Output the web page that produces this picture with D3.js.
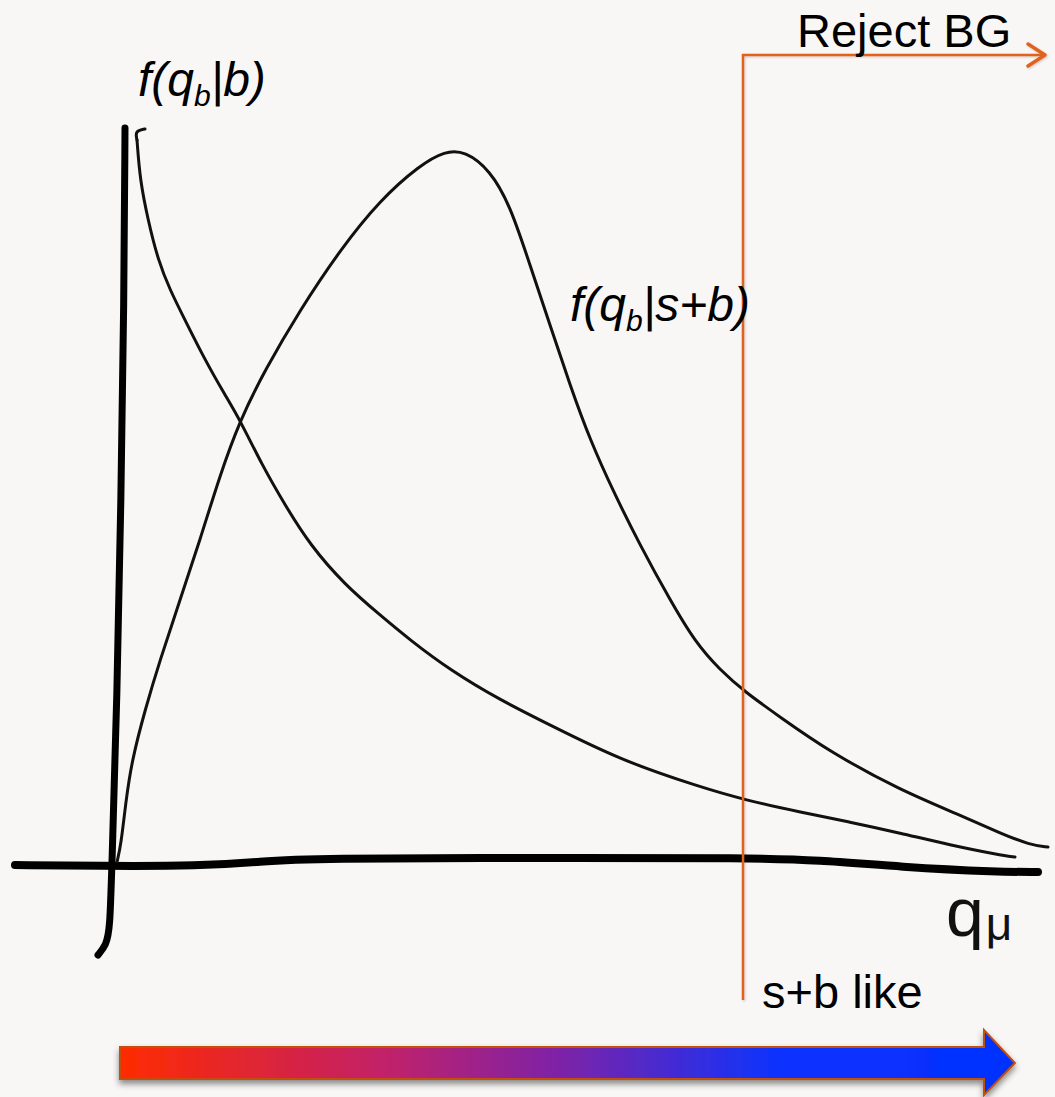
<!DOCTYPE html>
<html>
<head>
<meta charset="utf-8">
<script src="https://cdn.jsdelivr.net/npm/d3@7"></script>
<style>
  body { margin: 0; background: #f8f7f5; }
  text { font-family: "Liberation Sans", Arial, sans-serif; }
</style>
</head>
<body>
<div id="chart"></div>
<script>
    // hand drawn curves (q along x, f along y)
    var bgCurve = [
        [2.7, 72.5], [3.0, 68.5], [3.8, 64.5], [4.8, 60.5], [6.0, 57.5], [7.5, 54.5],
        [9.5, 50.5], [11.5, 47.0], [13.0, 44.5], [15.2, 40.0], [17.5, 36.0], [20.0, 32.0],
        [23.5, 28.0], [27.0, 25.0], [30.0, 22.5], [34.0, 19.5], [39.0, 16.5], [44.0, 14.0],
        [51.0, 10.5], [59.0, 7.8], [63.5, 6.5], [69.0, 5.3], [74.0, 4.3], [79.0, 3.2],
        [84.0, 2.0], [89.0, 1.0], [90.5, 0.8]
    ];
    var bgHook = [[3.5, 73.6], [2.5, 73.4], [2.7, 72.5]];

    var sbCurve = [
        [0.7, 0.3], [1.1, 2.0], [1.6, 6.5], [2.2, 10.5], [3.5, 15.5], [5.0, 20.5],
        [7.0, 26.5], [9.0, 32.5], [11.0, 39.0], [13.0, 44.5], [15.5, 49.5], [19.0, 55.5],
        [23.0, 61.5], [27.0, 66.5], [31.0, 70.0], [33.5, 71.4], [35.5, 71.4], [38.0, 69.5],
        [40.0, 66.0], [42.0, 60.0], [44.0, 54.0], [46.0, 48.0], [48.0, 42.5], [50.5, 37.0],
        [53.0, 32.0], [56.0, 26.5], [58.5, 22.3], [61.0, 19.5], [63.5, 17.3],
        [67.0, 14.8], [72.0, 11.3], [79.0, 7.5], [85.0, 5.0], [89.0, 3.2], [92.0, 2.0],
        [93.8, 1.8]
    ];

    var yAxisStroke = [[1.5, 73.7], [1.4, 56.5], [1.1, 36.5], [0.7, 16.5], [0.2, 0.5],
        [0.0, -6.5], [-0.4, -8.0], [-1.2, -9.0]];
    var xAxisStroke = [[-9.5, 0.0], [-1, -0.1], [9, -0.1], [15, 0.3], [19, 0.7], [49, 0.7],
        [63, 0.7], [71, 0.5], [79, -0.2], [89, -0.7], [92.8, -0.7]];

    var qCut = 63.3;
    var cutTop = 81, cutBottom = -13.5, cutArrowEnd = 93.5;

    var labels = ["Reject BG", "s+b like"];
    var gradStops = [
        {offset: 0, color: "#ff2b00"},
        {offset: 0.3, color: "#c0206a"},
        {offset: 0.5, color: "#7a24aa"},
        {offset: 0.74, color: "#0a33ff"},
        {offset: 1, color: "#0433ff"}
    ];

    var fullwidth = 1055;
    var fullheight = 1097;

    var svg = d3.select("#chart").append("svg")
        .attr("width", fullwidth)
        .attr("height", fullheight);

    svg.append("rect")
        .attr("width", fullwidth)
        .attr("height", fullheight)
        .attr("fill", "#f8f7f5");

    var xScale = d3.scaleLinear().domain([0, 93]).range([110, 1040]);
    var yScale = d3.scaleLinear().domain([0, 73.5]).range([865, 130]);

    var line = d3.line()
        .x(function(d) { return xScale(d[0]); })
        .y(function(d) { return yScale(d[1]); })
        .curve(d3.curveBasis);

    var defs = svg.append("defs");
    var shadow = defs.append("filter").attr("id", "shadow")
        .attr("x", "-5%").attr("y", "-30%").attr("width", "110%").attr("height", "180%");
    shadow.append("feDropShadow")
        .attr("dx", 0).attr("dy", 4).attr("stdDeviation", 3)
        .attr("flood-color", "#000").attr("flood-opacity", 0.45);
    var lshadow = defs.append("filter").attr("id", "lshadow");
    lshadow.append("feDropShadow")
        .attr("dx", 1).attr("dy", 1).attr("stdDeviation", 1)
        .attr("flood-color", "#000").attr("flood-opacity", 0.2);

    var grad = defs.append("linearGradient").attr("id", "grad")
        .attr("x1", "0%").attr("x2", "100%").attr("y1", "0%").attr("y2", "0%");
    grad.selectAll("stop")
        .data(gradStops)
        .enter()
        .append("stop")
        .attr("offset", function(d) { return d.offset; })
        .attr("stop-color", function(d) { return d.color; });

    // axes (hand drawn)
    svg.append("path")
        .attr("d", line(xAxisStroke))
        .attr("fill", "none")
        .attr("stroke", "#000")
        .attr("stroke-width", 8)
        .attr("stroke-linecap", "round");

    svg.append("path")
        .attr("d", line(yAxisStroke))
        .attr("fill", "none")
        .attr("stroke", "#000")
        .attr("stroke-width", 7)
        .attr("stroke-linecap", "round");

    // curves
    [bgCurve, bgHook, sbCurve].forEach(function(c) {
        svg.append("path")
            .attr("d", line(c))
            .attr("fill", "none")
            .attr("stroke", "#111")
            .attr("stroke-width", 3)
            .attr("stroke-linecap", "round")
            .attr("stroke-linejoin", "round");
    });

    // cut line
    var cut = svg.append("g").attr("filter", "url(#lshadow)");
    cut.append("path")
        .attr("d", "M" + xScale(qCut) + "," + yScale(cutBottom) +
                   "V" + yScale(cutTop) + "H" + xScale(cutArrowEnd))
        .attr("fill", "none")
        .attr("stroke", "#e0621f")
        .attr("stroke-width", 2.5);
    cut.append("path")
        .attr("d", "M" + (xScale(cutArrowEnd) - 17) + "," + (yScale(cutTop) - 11) +
                   "L" + xScale(cutArrowEnd) + "," + yScale(cutTop) +
                   "L" + (xScale(cutArrowEnd) - 17) + "," + (yScale(cutTop) + 11))
        .attr("fill", "none")
        .attr("stroke", "#e0621f")
        .attr("stroke-width", 3.5)
        .attr("stroke-linecap", "round")
        .attr("stroke-linejoin", "round");

    // text
    svg.append("text")
        .attr("x", 797).attr("y", 47)
        .attr("font-size", 47)
        .attr("fill", "#000")
        .text(labels[0]);

    svg.append("text")
        .attr("x", 762).attr("y", 1008)
        .attr("font-size", 47)
        .attr("fill", "#000")
        .text(labels[1]);

    function fLabel(x, y, cond) {
        var t = svg.append("text")
            .attr("x", x).attr("y", y)
            .attr("font-size", 48)
            .attr("font-style", "italic")
            .attr("fill", "#000");
        t.append("tspan").text("f(q");
        t.append("tspan").attr("font-size", 30).attr("dy", 10).text("b");
        t.append("tspan").attr("dy", -10).text("|" + cond + ")");
    }
    fLabel(138, 96, "b");
    fLabel(570, 321, "s+b");

    var qmu = svg.append("text")
        .attr("x", 946).attr("y", 936)
        .attr("font-size", 68)
        .attr("fill", "#111");
    qmu.append("tspan").text("q");
    qmu.append("tspan").attr("font-size", 46).attr("dx", 2).attr("dy", 4).text("μ");

    // colour arrow
    var ax0 = 120, ax1 = 984, atip = 1015, ay0 = 1047, ay1 = 1079, ah0 = 1030, ah1 = 1095;
    svg.append("path")
        .attr("d", "M" + ax0 + "," + ay0 + "H" + ax1 + "V" + ah0 + "L" + atip + "," + ((ay0 + ay1) / 2) +
                   "L" + ax1 + "," + ah1 + "V" + ay1 + "H" + ax0 + "Z")
        .attr("fill", "url(#grad)")
        .attr("stroke", "#c4500c")
        .attr("stroke-width", 2)
        .attr("filter", "url(#shadow)");
</script>
</body>
</html>
